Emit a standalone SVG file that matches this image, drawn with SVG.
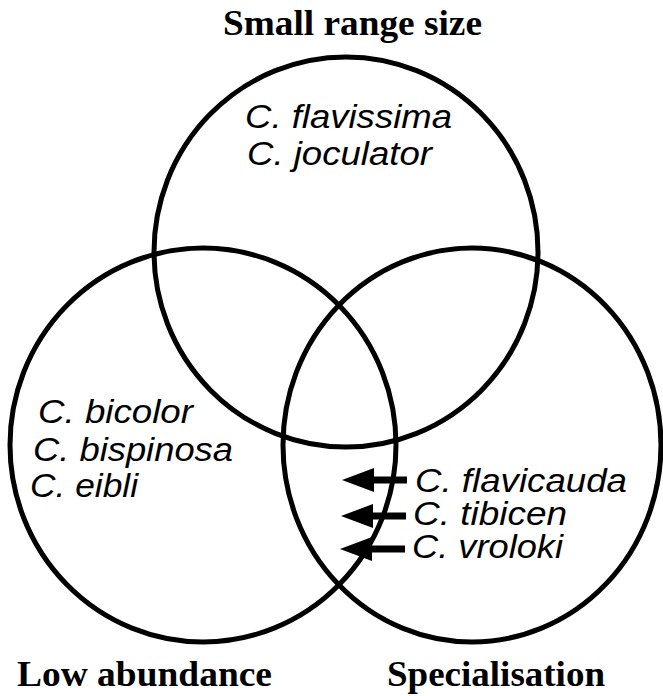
<svg xmlns="http://www.w3.org/2000/svg" width="663" height="696" viewBox="0 0 663 696">
<defs>
<style>
.set{fill:none;stroke:#000;stroke-width:5}
.title{font-family:"Liberation Serif","Times New Roman",serif;font-weight:bold;font-size:35px;fill:#000}
.sp{font-family:"Liberation Sans",Arial,sans-serif;font-style:italic;font-size:33px;fill:#000}
.arr{stroke:#000;stroke-width:7;fill:none}
.head{fill:#000}
</style>
</defs>
<rect width="663" height="696" fill="#fff"/>
<g id="small-range-size">
<ellipse class="set" cx="346" cy="252" rx="192" ry="195"/>
<text class="title" x="223" y="35" textLength="259" lengthAdjust="spacingAndGlyphs">Small range size</text>
<text class="sp" x="245" y="128" textLength="207" lengthAdjust="spacingAndGlyphs">C. flavissima</text>
<text class="sp" x="247" y="165" textLength="185" lengthAdjust="spacingAndGlyphs">C. joculator</text>
</g>
<g id="low-abundance">
<ellipse class="set" cx="203" cy="445" rx="193" ry="197"/>
<text class="title" x="17" y="686" textLength="255" lengthAdjust="spacingAndGlyphs">Low abundance</text>
<text class="sp" x="38" y="423" textLength="155" lengthAdjust="spacingAndGlyphs">C. bicolor</text>
<text class="sp" x="33" y="461" textLength="200" lengthAdjust="spacingAndGlyphs">C. bispinosa</text>
<text class="sp" x="30" y="497" textLength="108" lengthAdjust="spacingAndGlyphs">C. eibli</text>
</g>
<g id="specialisation">
<ellipse class="set" cx="472" cy="445" rx="189" ry="197"/>
<text class="title" x="387" y="686" textLength="218" lengthAdjust="spacingAndGlyphs">Specialisation</text>
<text class="sp" x="415" y="492" textLength="212" lengthAdjust="spacingAndGlyphs">C. flavicauda</text>
<text class="sp" x="413" y="525" textLength="154" lengthAdjust="spacingAndGlyphs">C. tibicen</text>
<text class="sp" x="412" y="558" textLength="151" lengthAdjust="spacingAndGlyphs">C. vroloki</text>
</g>
<g id="connectors">
<line class="arr" x1="407" y1="480" x2="360" y2="480"/>
<polygon class="head" points="342,480 374,468 374,492"/>
<line class="arr" x1="406" y1="516" x2="360" y2="516"/>
<polygon class="head" points="341,516 373,504 373,528"/>
<line class="arr" x1="405" y1="549" x2="360" y2="549"/>
<polygon class="head" points="340,549 372,537 372,561"/>
</g>
</svg>
